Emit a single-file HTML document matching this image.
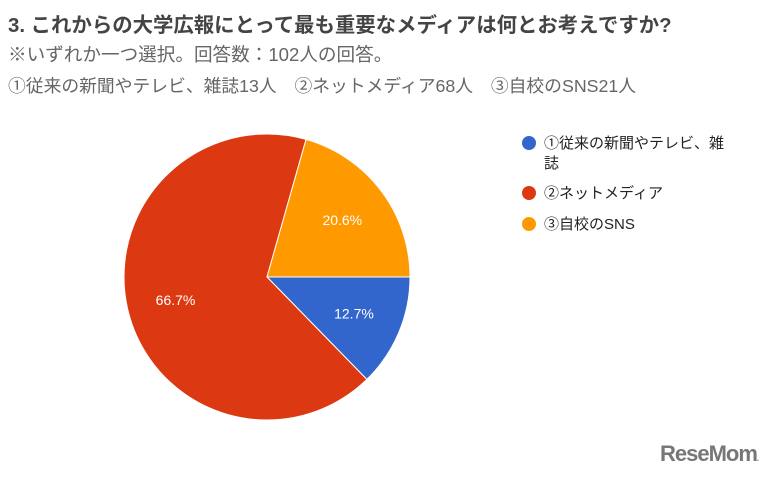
<!DOCTYPE html>
<html><head><meta charset="utf-8"><style>
body{margin:0;width:769px;height:479px;background:#fff;overflow:hidden;position:relative;font-family:"Liberation Sans","Noto Sans CJK JP",sans-serif;}
.t{position:absolute;white-space:nowrap}
</style></head><body>
<div class="t" style="left:8px;top:8px;font-size:20.4px;font-weight:bold;color:#444">3. これからの大学広報にとって最も重要なメディアは何とお考えですか?</div>
<div class="t" style="left:8px;top:40px;font-size:18.6px;color:#666">※いずれか一つ選択。回答数：102人の回答。</div>
<div class="t" style="left:8px;top:72px;font-size:17.8px;color:#666">①従来の新聞やテレビ、雑誌13人　②ネットメディア68人　③自校のSNS21人</div>
<svg id="pie" width="769" height="479" style="position:absolute;left:0;top:0"></svg>
<div class="t" style="left:660px;top:441px;font-size:22px;font-weight:bold;color:#777;letter-spacing:-1px">ReseMom<span style="font-size:8px">.</span></div>
<script>
const categories=["①従来の新聞やテレビ、雑誌","②ネットメディア","③自校のSNS"];
const values=[12.7,66.7,20.6];
const labels=["12.7%","66.7%","20.6%"];
const colors=["#3366cc","#dc3912","#ff9900"];
const svg=document.getElementById('pie');
const NS="http://www.w3.org/2000/svg";
const cx=267,cy=277,r=143;
const total=values.reduce((a,b)=>a+b,0);
let a=Math.PI/2;
function pt(ang,rr){return [cx+rr*Math.sin(ang),cy-rr*Math.cos(ang)];}
values.forEach((v,i)=>{
  const sw=v/total*2*Math.PI;
  const [x1,y1]=pt(a,r),[x2,y2]=pt(a+sw,r);
  const p=document.createElementNS(NS,'path');
  p.setAttribute('d',`M${cx},${cy}L${x1},${y1}A${r},${r} 0 ${sw>Math.PI?1:0} 1 ${x2},${y2}Z`);
  p.setAttribute('fill',colors[i]);p.setAttribute('stroke','#fff');p.setAttribute('stroke-width','1');
  
  
  svg.appendChild(p);
  const [lx,ly]=pt(a+sw/2,r*0.66);
  const t=document.createElementNS(NS,'text');
  t.setAttribute('x',lx);t.setAttribute('y',ly+5);t.setAttribute('text-anchor','middle');
  t.setAttribute('font-size','14');t.setAttribute('fill','#fff');
  t.textContent=labels[i];
  
  
  svg.appendChild(t);
  a+=sw;
});
const ly0=[143,193,224];
categories.forEach((c,i)=>{
  const g=document.createElementNS(NS,'g');
  
  
  const ci=document.createElementNS(NS,'circle');
  ci.setAttribute('cx',529);ci.setAttribute('cy',ly0[i]);ci.setAttribute('r',7);ci.setAttribute('fill',colors[i]);
  g.appendChild(ci);
  const t=document.createElementNS(NS,'text');
  t.setAttribute('x',544);t.setAttribute('y',ly0[i]+5);t.setAttribute('font-size','15');t.setAttribute('fill','#222');
  if(i===0){t.textContent='①従来の新聞やテレビ、雑';
    const t2=document.createElementNS(NS,'text');t2.setAttribute('x',544);t2.setAttribute('y',ly0[i]+25);t2.setAttribute('font-size','15');t2.setAttribute('fill','#222');t2.textContent='誌';g.appendChild(t2);}
  else t.textContent=c;
  g.appendChild(t);
  svg.appendChild(g);
});
</script>
</body></html>
